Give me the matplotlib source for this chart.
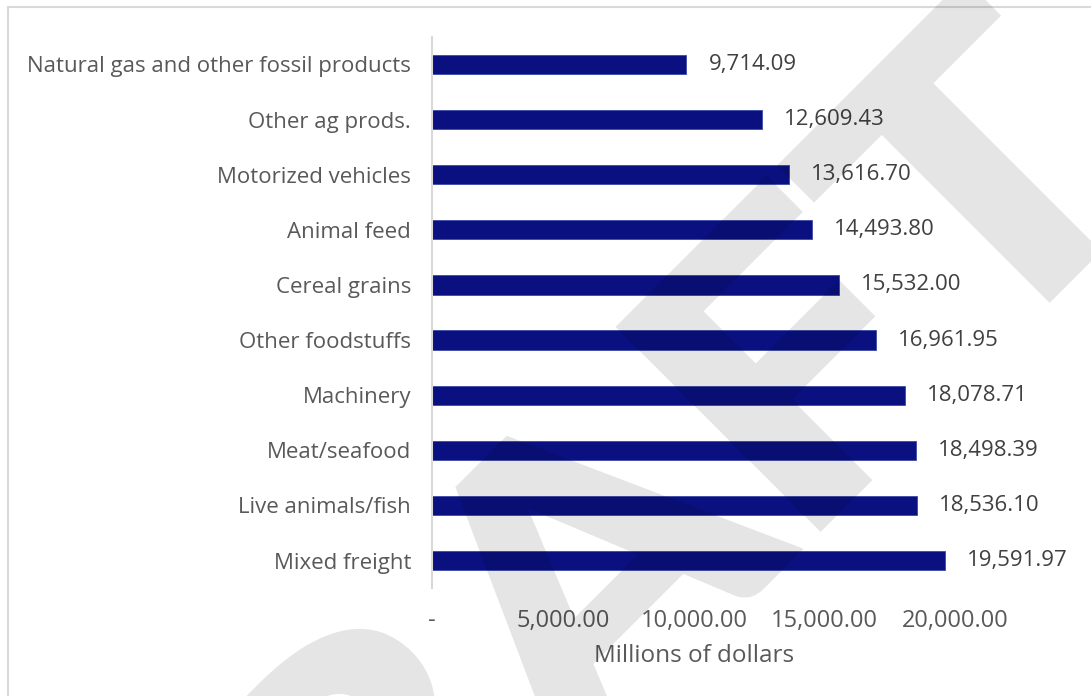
import numpy as np
import matplotlib
matplotlib.use("Agg")
import matplotlib.pyplot as plt
from matplotlib.figure import Figure
from matplotlib.backends.backend_agg import FigureCanvasAgg
from matplotlib.patches import Rectangle, PathPatch
from matplotlib.textpath import TextPath
from matplotlib.font_manager import FontProperties
from matplotlib.transforms import Affine2D, IdentityTransform

categories = [
    "Natural gas and other fossil products",
    "Other ag prods.",
    "Motorized vehicles",
    "Animal feed",
    "Cereal grains",
    "Other foodstuffs",
    "Machinery",
    "Meat/seafood",
    "Live animals/fish",
    "Mixed freight",
]
values = [9714.09, 12609.43, 13616.70, 14493.80, 15532.00,
          16961.95, 18078.71, 18498.39, 18536.10, 19591.97]
x_ticks = [0, 5000, 10000, 15000, 20000]
x_tick_labels = ["-", "5,000.00", "10,000.00", "15,000.00", "20,000.00"]
x_label = "Millions of dollars"

plt.rcParams["font.family"] = ["Open Sans", "DejaVu Sans"]

W, H = 1091, 696
fig = plt.figure(figsize=(W / 100, H / 100), dpi=100)
ax = fig.add_axes([0.396, 0.155, 0.480, 0.792])

n = len(categories)
ypos = list(range(n))
bar_color = "#0a1080"
ax.barh(ypos, values, height=0.35, color=bar_color,
        edgecolor="#3a4aa8", linewidth=0.6, zorder=2)

for y, v in zip(ypos, values):
    ax.annotate(f"{v:,.2f}", xy=(v, y), xytext=(22, 0),
                textcoords="offset pixels", va="center", ha="left",
                fontsize=16, color="#404040", annotation_clip=False)

ax.set_ylim(n - 0.5, -0.5)
ax.set_xlim(0, 20000)
ax.set_yticks(ypos)
ax.set_yticklabels(categories, fontsize=16, color="#595959")
ax.set_xticks(x_ticks)
ax.set_xticklabels(x_tick_labels, fontsize=17, color="#595959")
ax.set_xlabel(x_label, fontsize=17.5, color="#595959", labelpad=8)
ax.tick_params(axis="both", length=0)
ax.tick_params(axis="y", pad=15)
ax.tick_params(axis="x", pad=15)

for side in ["top", "right", "bottom"]:
    ax.spines[side].set_visible(False)
ax.spines["left"].set_color("#d9d9d9")
ax.spines["left"].set_linewidth(1.5)

# chart frame
fig.patches.append(Rectangle((8 / W, -0.1), 1.2, 1.1 - 7 / H,
                             transform=fig.transFigure, fill=False,
                             edgecolor="#d9d9d9", linewidth=1.5))

# "DRAFT" watermark: rotated glyph outline rendered to a coverage mask,
# then laid over the chart as a uniformly translucent layer
wm_font = FontProperties(family="Lato", weight="black")
wm_path = TextPath((0, 0), "DRAFT", size=100, prop=wm_font)
cap_height = TextPath((0, 0), "T", size=100, prop=wm_font).get_extents().ymax
wm_scale = 285 / cap_height
wm_right = wm_path.get_extents().xmax
wm_tr = (Affine2D().translate(-wm_right, 0)
         .scale(wm_scale * 1.15, wm_scale)
         .rotate_deg(45).translate(1165.5, H - 183.5))

mask_fig = Figure(figsize=(W / 100, H / 100), dpi=100)
mask_canvas = FigureCanvasAgg(mask_fig)
mask_fig.patch.set_alpha(0)
mask_fig.add_artist(PathPatch(wm_tr.transform_path(wm_path),
                              transform=IdentityTransform(),
                              facecolor="black", edgecolor="black",
                              linewidth=5 * 0.72))
mask_canvas.draw()
coverage = np.asarray(mask_canvas.buffer_rgba())[..., 3] / 255.0

wm_img = np.zeros((coverage.shape[0], coverage.shape[1], 4))
wm_img[..., 3] = coverage * 0.105
fig.figimage(wm_img, xo=0, yo=0, origin="upper", zorder=10)

fig.savefig("out.png", dpi=100)
